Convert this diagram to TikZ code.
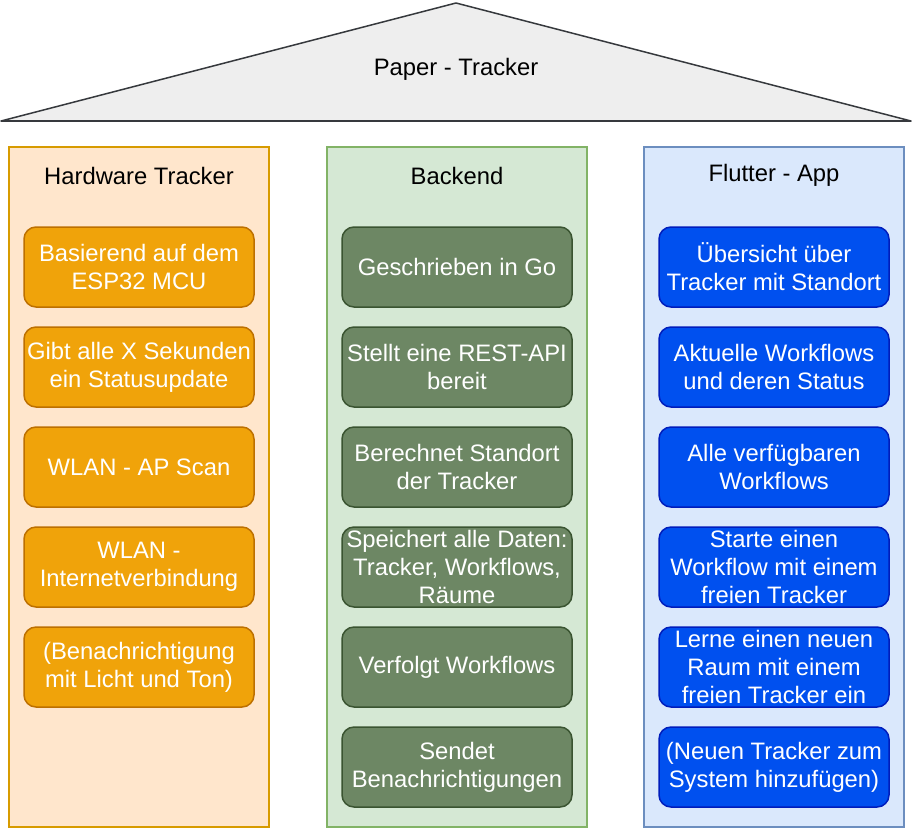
\documentclass[tikz,border=0pt]{standalone}
\usepackage{fontspec}
\setmainfont{Liberation Sans}
\definecolor{roofFill}{HTML}{EEEEEE}
\definecolor{roofLine}{HTML}{36393D}
\definecolor{hwBack}{HTML}{FFE6CC}
\definecolor{hwLine}{HTML}{D79B00}
\definecolor{hwBox}{HTML}{F0A30A}
\definecolor{hwBoxLine}{HTML}{BD7000}
\definecolor{beBack}{HTML}{D5E8D4}
\definecolor{beLine}{HTML}{82B366}
\definecolor{beBox}{HTML}{6D8764}
\definecolor{beBoxLine}{HTML}{3A5431}
\definecolor{appBack}{HTML}{DAE8FC}
\definecolor{appLine}{HTML}{6C8EBF}
\definecolor{appBox}{HTML}{0050EF}
\definecolor{appBoxLine}{HTML}{001DBC}

\begin{document}
\begin{tikzpicture}[x=1pt, y=-1pt,
  every node/.style={font=\fontsize{23.8}{28}\selectfont},
  pillar/.style={draw, line width=1.5pt, minimum width=260pt, minimum height=680pt, inner sep=0pt},
  heading/.style={yshift=-1.5pt},
  item/.style={draw, line width=1.5pt, rounded corners=12pt, text=white, align=center,
    minimum width=230pt, minimum height=80pt, inner sep=0pt}]
\useasboundingbox (0,0) rectangle (912,828);
% roof
\coordinate (roofL) at (1,121);
\coordinate (roofT) at (456,3);
\coordinate (roofR) at (911,121);
\draw[fill=roofFill, draw=roofLine, line width=1.5pt, line join=round] (roofL) -- (roofT) -- (roofR) -- cycle;
\draw[draw=roofLine, line width=2.5pt] (roofL) -- (roofR);
\node[heading] (title) at (456,68) {Paper - Tracker};
% pillars
\node[pillar, fill=hwBack, draw=hwLine] (hw) at (139,487) {};
\node[pillar, fill=beBack, draw=beLine] (be) at (457,487) {};
\node[pillar, fill=appBack, draw=appLine] (app) at (774,487) {};
\node[heading] (hwT) at (139,174) {Hardware Tracker};
\node[heading] (beT) at (457,174) {Backend};
\node[heading] (appT) at (774,174) {Flutter - App};
% hardware
\node[item, fill=hwBox, draw=hwBoxLine] (hw1) at (139,267) {Basierend auf dem\\ESP32 MCU};
\node[item, fill=hwBox, draw=hwBoxLine] (hw2) at (139,367) {Gibt alle X Sekunden\\ein Statusupdate};
\node[item, fill=hwBox, draw=hwBoxLine] (hw3) at (139,467) {WLAN - AP Scan};
\node[item, fill=hwBox, draw=hwBoxLine] (hw4) at (139,567) {WLAN -\\Internetverbindung};
\node[item, fill=hwBox, draw=hwBoxLine] (hw5) at (139,667) {(Benachrichtigung\\mit Licht und Ton)};
% backend
\node[item, fill=beBox, draw=beBoxLine] (be1) at (457,267) {Geschrieben in Go};
\node[item, fill=beBox, draw=beBoxLine] (be2) at (457,367) {Stellt eine REST-API\\bereit};
\node[item, fill=beBox, draw=beBoxLine] (be3) at (457,467) {Berechnet Standort\\der Tracker};
\node[item, fill=beBox, draw=beBoxLine] (be4) at (457,567) {Speichert alle Daten:\\Tracker, Workflows,\\Räume};
\node[item, fill=beBox, draw=beBoxLine] (be5) at (457,667) {Verfolgt Workflows};
\node[item, fill=beBox, draw=beBoxLine] (be6) at (457,767) {Sendet\\Benachrichtigungen};
% app
\node[item, fill=appBox, draw=appBoxLine] (app1) at (774,267) {Übersicht über\\Tracker mit Standort};
\node[item, fill=appBox, draw=appBoxLine] (app2) at (774,367) {Aktuelle Workflows\\und deren Status};
\node[item, fill=appBox, draw=appBoxLine] (app3) at (774,467) {Alle verfügbaren\\Workflows};
\node[item, fill=appBox, draw=appBoxLine] (app4) at (774,567) {Starte einen\\Workflow mit einem\\freien Tracker};
\node[item, fill=appBox, draw=appBoxLine] (app5) at (774,667) {Lerne einen neuen\\Raum mit einem\\freien Tracker ein};
\node[item, fill=appBox, draw=appBoxLine] (app6) at (774,767) {(Neuen Tracker zum\\System hinzufügen)};
\end{tikzpicture}
\end{document}
